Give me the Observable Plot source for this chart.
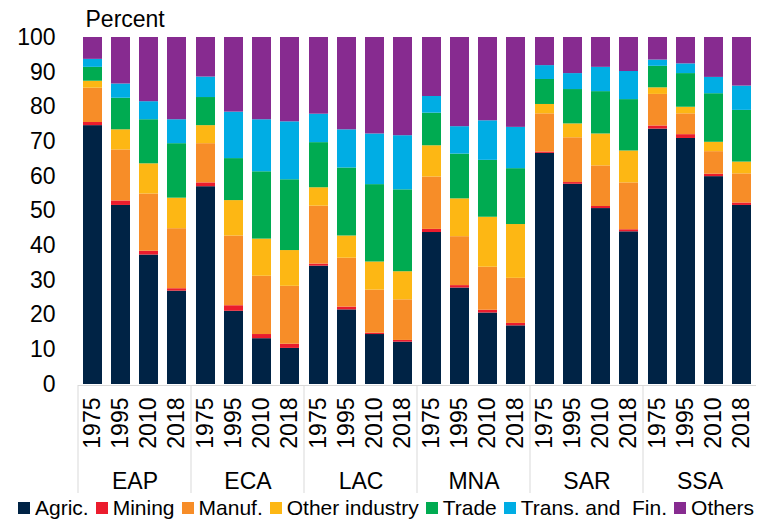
<!DOCTYPE html>
<html>
<head>
<meta charset="utf-8">
<script src="https://cdn.jsdelivr.net/npm/d3@7"></script>
<script src="https://cdn.jsdelivr.net/npm/@observablehq/plot@0.6"></script>
<style>
  html, body { margin: 0; padding: 0; background: #fff; }
  #wrap { width: 757px; height: 523px; position: relative; font-family: "Liberation Sans", Arial, sans-serif; }
  #legend { position: absolute; left: 18px; top: 493px; height: 30px; display: flex; align-items: center; gap: 7px; font-size: 21px; color: #000; white-space: pre; }
  .item { display: flex; align-items: center; }
  .sw { width: 12px; height: 12px; margin-right: 5px; display: inline-block; }
</style>
</head>
<body>
<div id="wrap"><div id="chart"></div><div id="legend"></div></div>
<script>
const regions = ["EAP", "ECA", "LAC", "MNA", "SAR", "SSA"];
const years = ["1975", "1995", "2010", "2018"];
const sectors = ["Agric.", "Mining", "Manuf.", "Other industry", "Trade", "Trans. and  Fin.", "Others"];
const colors = ["#002345", "#EB1C2D", "#F78D28", "#FDB714", "#00AB51", "#00ADE4", "#872B90"];
const yTicks = [0, 10, 20, 30, 40, 50, 60, 70, 80, 90, 100];
const yTitle = "Percent";

// values ordered by region, then year (EAP 1975, 1995, 2010, 2018, ECA 1975, ...)
const agric    = [74.6, 51.6, 37.3, 26.9, 57.0, 21.1, 13.2, 10.4, 34.1, 21.5, 14.4, 12.2, 43.8, 27.8, 20.6, 16.9, 66.6, 57.7, 50.7, 44.0, 73.6, 70.9, 59.9, 51.6];
const mining   = [0.9, 1.3, 1.1, 0.7, 1.1, 1.6, 1.2, 1.2, 0.6, 0.8, 0.4, 0.5, 0.9, 0.7, 0.8, 0.7, 0.4, 0.5, 0.6, 0.6, 0.9, 1.1, 0.7, 0.7];
const manuf    = [9.9, 14.7, 16.5, 17.3, 11.3, 20.1, 16.8, 16.7, 16.7, 14.1, 12.4, 11.7, 15.1, 14.1, 12.4, 13.0, 11.0, 12.9, 11.7, 13.5, 9.1, 6.0, 6.5, 8.4];
const otherInd = [2.0, 5.8, 8.7, 8.8, 5.2, 10.2, 10.7, 10.3, 5.3, 6.4, 8.1, 8.1, 9.0, 10.9, 14.4, 15.5, 2.7, 4.0, 9.2, 9.2, 1.9, 1.9, 2.7, 3.4];
const trade    = [4.0, 9.1, 12.7, 15.7, 8.1, 12.1, 19.4, 20.4, 13.0, 19.6, 22.3, 23.6, 9.4, 12.9, 16.4, 16.1, 7.2, 9.9, 12.2, 14.8, 6.2, 9.7, 14.0, 14.9];
const transFin = [2.3, 4.1, 5.2, 6.9, 5.9, 13.4, 15.0, 16.7, 8.2, 11.0, 14.6, 15.6, 4.8, 7.9, 11.4, 11.9, 4.0, 4.6, 7.0, 8.1, 1.8, 2.8, 4.7, 7.0];
const others   = [6.3, 13.4, 18.5, 23.7, 11.4, 21.5, 23.7, 24.3, 22.1, 26.6, 27.8, 28.3, 17.0, 25.7, 24.0, 25.9, 8.1, 10.4, 8.6, 9.8, 6.5, 7.6, 11.5, 14.0];

const series = [agric, mining, manuf, otherInd, trade, transFin, others];
const rows = [];
sectors.forEach((s, si) => {
  regions.forEach((r, ri) => {
    years.forEach((yr, yi) => {
      rows.push({sector: s, region: r, year: yr, value: series[si][ri * years.length + yi]});
    });
  });
});

const plot = Plot.plot({
  width: 757,
  height: 493,
  marginTop: 37,
  marginLeft: 76,
  marginRight: 0,
  marginBottom: 109,
  style: {fontFamily: "'Liberation Sans', Arial, sans-serif", fontSize: "23px", color: "#000", background: "white"},
  fx: {domain: regions, padding: 0, label: null, axis: "bottom", tickSize: 0, tickPadding: 88},
  x: {domain: years, paddingInner: 0.33, paddingOuter: 0.165, label: null, tickRotate: -90, tickSize: 0, tickPadding: 13},
  y: {domain: [0, 100], ticks: yTicks, label: null, tickSize: 0, tickPadding: 23},
  color: {domain: sectors, range: colors},
  marks: [
    Plot.ruleY([0], {stroke: "#d9d9d9", dy: 1}),
    Plot.barY(rows, {fx: "region", x: "year", y: "value", fill: "sector"}),
    Plot.text([yTitle], {fx: () => regions[0], text: d => d, frameAnchor: "top-left", textAnchor: "start", lineAnchor: "top", dx: 7, dy: -27, fontSize: 23})
  ]
});

// group separators below the axis, placed with Plot's own fx scale
const fx = plot.scale("fx");
const yS = plot.scale("y");
const svg = d3.select(plot);
const y0 = yS.apply(0) + 1;
const yEnd = 493;
const edges = regions.map(r => fx.apply(r));
svg.append("g").selectAll("line").data(edges).join("line")
  .attr("x1", d => d).attr("x2", d => d)
  .attr("y1", y0).attr("y2", yEnd)
  .attr("stroke", "#d9d9d9").attr("stroke-width", 1);

document.getElementById("chart").appendChild(plot);

const legend = d3.select("#legend");
sectors.forEach((s, i) => {
  const it = legend.append("div").attr("class", "item");
  it.append("span").attr("class", "sw").style("background", colors[i]);
  it.append("span").text(s);
});
</script>
</body>
</html>
